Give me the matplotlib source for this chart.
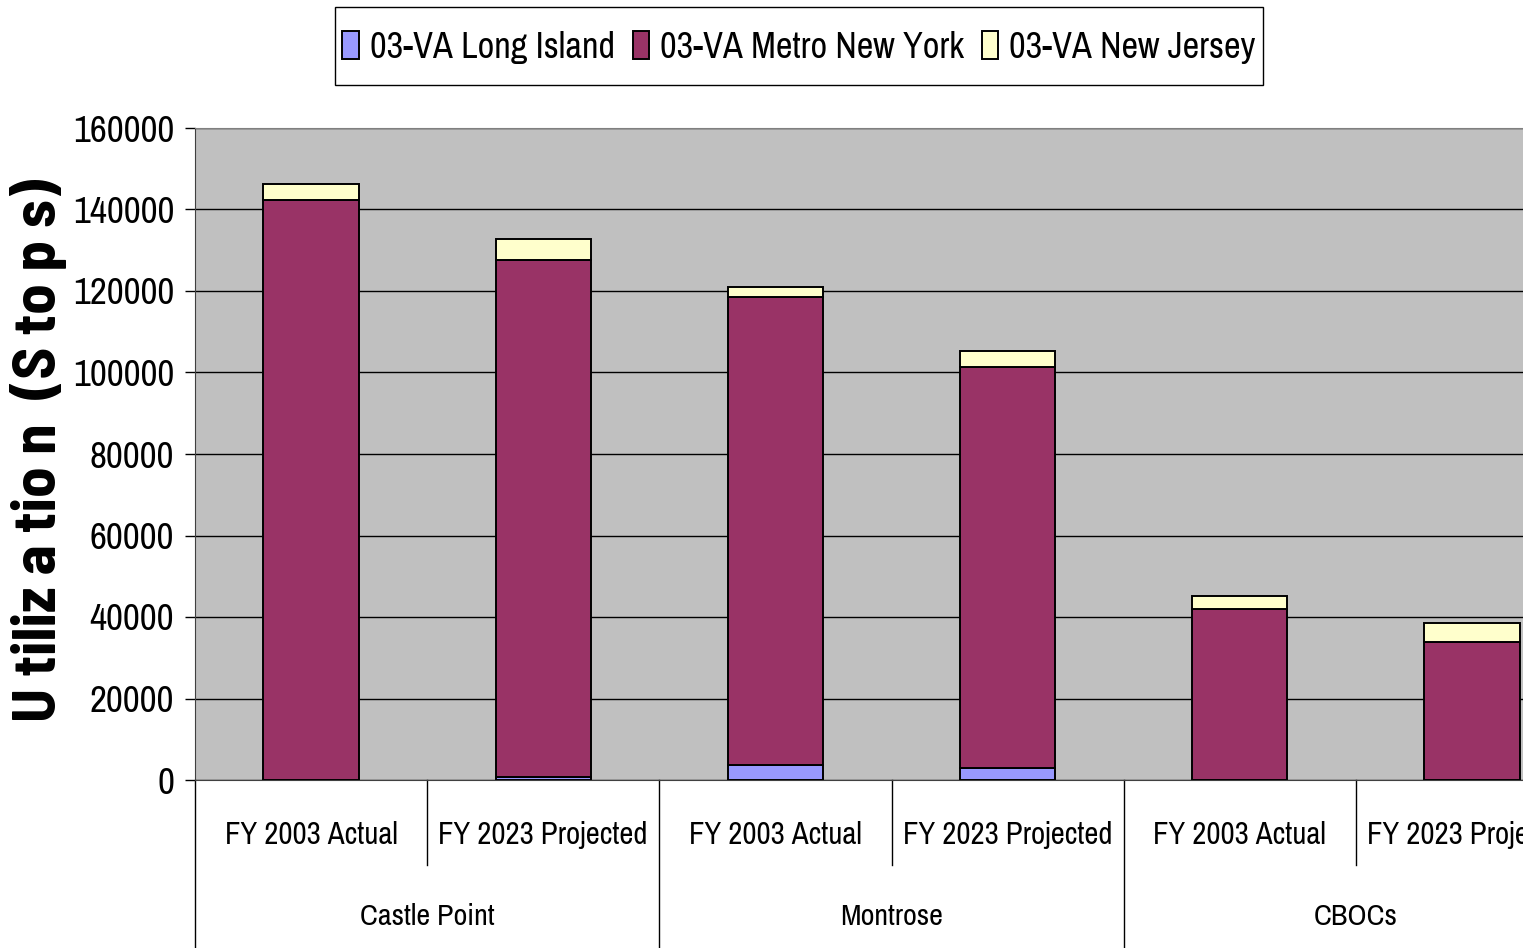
import numpy as np
import matplotlib
matplotlib.use("Agg")
import matplotlib.pyplot as plt
from matplotlib.patches import Rectangle
from matplotlib.transforms import blended_transform_factory
from matplotlib.font_manager import FontProperties
from matplotlib.textpath import TextPath

NARROW = ['Archivo Narrow', 'DejaVu Sans']
BOLDNARROW = ['Barlow Semi Condensed', 'Asap Condensed', 'DejaVu Sans']
plt.rcParams['font.family'] = NARROW

# data
periods = ["FY 2003 Actual", "FY 2023 Projected", "FY 2003 Actual",
           "FY 2023 Projected", "FY 2003 Actual", "FY 2023 Projected"]
sites = ["Castle Point", "Montrose", "CBOCs"]
long_island = [0, 800, 3700, 2900, 0, 0]
metro_ny = [142300, 126800, 114800, 98500, 42000, 33900]
new_jersey = [3900, 5100, 2400, 3900, 3200, 4600]
series_names = ["03-VA Long Island", "03-VA Metro New York", "03-VA New Jersey"]
colors = ["#9999FF", "#993366", "#FFFFCC"]
ylabel = "U tiliz a tio n  (S to p s)"


def fit(s, px, family, weight="normal"):
    # font size (pt) that makes string s about px pixels wide at 100 dpi
    fp = FontProperties(family=family, weight=weight)
    w = TextPath((0, 0), s, size=10, prop=fp).get_extents().width
    return 10 * px * 0.72 / w


W, H = 1523, 948
fig = plt.figure(figsize=(W / 100, H / 100), dpi=100)
# plot area runs past the right edge of the picture, like the original
ax = fig.add_axes([195 / W, 1 - 780 / H, (1588 - 195) / W, (780 - 128) / H])
ax.set_facecolor("#C0C0C0")

x = np.arange(len(periods))
li = np.array(long_island)
mny = np.array(metro_ny)
nj = np.array(new_jersey)
kw = dict(width=0.41, edgecolor="black", linewidth=1.4, zorder=3)
b1 = ax.bar(x, li, color=colors[0], **kw)
b2 = ax.bar(x, mny, bottom=li, color=colors[1], **kw)
b3 = ax.bar(x, nj, bottom=li + mny, color=colors[2], **kw)

ax.set_xlim(-0.5, len(periods) - 0.5)
ax.set_ylim(0, 160000)
ax.set_yticks(np.arange(0, 160001, 20000))
ax.tick_params(axis="y", labelsize=fit("160000", 98, NARROW), length=7, width=1, pad=8)
ax.yaxis.grid(True, color="black", linewidth=1, zorder=1)
ax.set_axisbelow(True)

ax.set_xticks(x)
ax.set_xticklabels([])
ax.tick_params(axis="x", length=0)
for s in ["top", "right"]:
    ax.spines[s].set_color("#808080")
ax.spines["left"].set_color("#404040")
ax.spines["bottom"].set_color("#404040")

# two-level category axis
tr = blended_transform_factory(ax.transData, ax.transAxes)
fs_lab = fit("FY 2003 Actual", 169, NARROW)
for i, lab in enumerate(periods):
    ax.text(i, -0.085, lab, transform=tr, ha="center", va="center", fontsize=fs_lab)
fs_grp = fit("Castle Point", 133, NARROW)
for g, name in enumerate(sites):
    ax.text(2 * g + 0.5, -0.21, name, transform=tr, ha="center", va="center", fontsize=fs_grp)
for xs in np.arange(-0.5, len(periods), 1.0):
    long_line = int(round(xs + 0.5)) % 2 == 0
    y1 = -0.26 if long_line else -0.13
    ax.plot([xs, xs], [0, y1], transform=tr, color="black", linewidth=1, clip_on=False)

fig.text(39 / W, 1 - 450 / H, ylabel, rotation=90, ha="center", va="center",
         fontsize=fit(ylabel, 540, BOLDNARROW, "bold"), fontweight="bold",
         family=BOLDNARROW)

# legend box drawn separately (wider vertical than horizontal padding)
fig.add_artist(Rectangle((335 / W, 1 - 85 / H), 928 / W, 78 / H, transform=fig.transFigure,
                         facecolor="white", edgecolor="black", linewidth=1, zorder=1))
leg = fig.legend([b1, b2, b3], series_names, loc="center",
                 bbox_to_anchor=(799 / W, 1 - 47 / H), borderaxespad=0, ncol=3,
                 fontsize=fit(series_names[0], 241, NARROW),
                 handlelength=0.45, handleheight=0.8, handletextpad=0.3,
                 columnspacing=0.5, borderpad=0, frameon=False)
leg.set_zorder(5)

fig.savefig("out.png", dpi=100)
